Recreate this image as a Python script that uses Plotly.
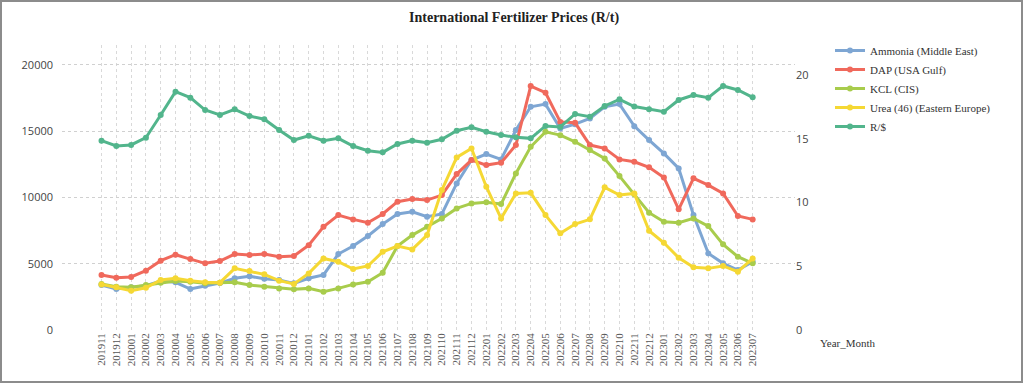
import plotly.graph_objects as go

months = ["201911","201912","202001","202002","202003","202004","202005","202006","202007","202008",
          "202009","202010","202011","202012","202101","202102","202103","202104","202105","202106",
          "202107","202108","202109","202110","202111","202112","202201","202202","202203","202204",
          "202205","202206","202207","202208","202209","202210","202211","202212","202301","202302",
          "202303","202304","202305","202306","202307"]

ammonia = [3390,3090,3220,3340,3700,3600,3090,3340,3540,3900,
           4050,3870,3770,3520,3900,4150,5730,6330,7090,7990,
           8750,8920,8545,8750,11060,12820,13270,12870,15080,16840,
           17040,15200,15530,15960,16840,17040,15380,14330,13320,12190,
           8670,5780,5030,4520,5150]

dap = [4150,3950,4000,4470,5230,5680,5350,5030,5200,5730,
       5655,5730,5530,5580,6400,7790,8670,8345,8090,8750,
       9680,9880,9800,10180,11760,12820,12440,12620,13950,18400,
       17900,15700,15630,13950,13700,12870,12690,12270,11510,9100,
       11440,10930,10300,8600,8345]

kcl = [3470,3270,3220,3390,3570,3700,3640,3520,3570,3600,
       3390,3270,3140,3070,3140,2890,3140,3440,3640,4320,
       6330,7160,7790,8420,9170,9550,9630,9500,11810,13820,
       14950,14700,14200,13570,12940,11610,10250,8850,8170,8090,
       8420,7840,6460,5530,5030]

urea = [3440,3220,2960,3190,3770,3900,3720,3600,3570,4650,
        4450,4200,3720,3470,4270,5400,5150,4600,4830,5900,
        6330,6080,7160,10560,13020,13700,10810,8420,10300,10350,
        8670,7290,7990,8350,10760,10180,10300,7490,6580,5450,
        4730,4650,4830,4400,5400]

zar_usd = [14.85,14.43,14.51,15.08,16.86,18.69,18.22,17.25,16.86,17.31,
           16.78,16.53,15.69,14.90,15.23,14.85,15.03,14.43,14.06,13.93,
           14.59,14.85,14.69,14.96,15.63,15.90,15.55,15.29,15.11,15.03,
           16.00,15.92,16.94,16.73,17.57,18.09,17.52,17.31,17.12,18.04,
           18.43,18.22,19.14,18.82,18.25]

series = [
    ("Ammonia (Middle East)", ammonia, "#7ea6d3", "y"),
    ("DAP (USA Gulf)", dap, "#f0695c", "y"),
    ("KCL (CIS)", kcl, "#a8cc4c", "y"),
    ("Urea (46) (Eastern Europe)", urea, "#f5d834", "y"),
    ("R/$", zar_usd, "#52b58c", "y2"),
]

fig = go.Figure()
for name, vals, color, ax in series:
    fig.add_trace(go.Scatter(
        x=months, y=vals, name=name, yaxis=ax, mode="lines+markers",
        line=dict(color=color, width=3),
        marker=dict(color=color, size=6, symbol="circle"),
    ))

serif = "Liberation Serif"
fig.update_layout(
    width=1024, height=384,
    margin=dict(l=62, r=229, t=45, b=54, autoexpand=False),
    paper_bgcolor="white", plot_bgcolor="white",
    title=dict(text="<b>International Fertilizer Prices (R/t)</b>",
               x=0.502, xanchor="center", y=0.955, yanchor="middle",
               font=dict(family=serif, size=14, color="#222222")),
    showlegend=True,
    legend=dict(xref="container", yref="container", x=830/1024, y=1-36/384,
                xanchor="left", yanchor="top",
                font=dict(family=serif, size=11, color="#333333"),
                itemwidth=30, tracegroupgap=0, bgcolor="rgba(0,0,0,0)"),
    xaxis=dict(type="category", range=[-2.67, 46.86], automargin=False,
               tickangle=-90, tickfont=dict(family=serif, size=11, color="#555555"),
               showgrid=True, gridcolor="#d9d9d9", griddash="dot", gridwidth=1,
               showline=False, zeroline=False, ticks=""),
    yaxis=dict(range=[0, 21500], dtick=5000, tickformat="d", automargin=False,
               tickfont=dict(family="Open Sans", size=11, color="#444444"),
               showgrid=True, gridcolor="#d0d0d0", griddash="dot", gridwidth=1,
               zeroline=False, showline=False, ticks="", ticklabelstandoff=8),
    yaxis2=dict(range=[0, 22.35], dtick=5, overlaying="y", side="right", automargin=False,
                tickfont=dict(family="Open Sans", size=11, color="#444444"),
                showgrid=False, zeroline=False, showline=False, ticks=""),
    annotations=[dict(text="Year_Month", xref="paper", yref="paper",
                      x=(818-62)/733, y=(330-343)/285, xanchor="left", yanchor="middle",
                      showarrow=False, font=dict(family=serif, size=11, color="#333333"))],
    shapes=[dict(type="rect", xref="paper", yref="paper",
                 x0=(1-62)/733, x1=(1022-62)/733, y0=(330-382)/285, y1=(330-1)/285,
                 line=dict(color="#8c8c8c", width=2), fillcolor="rgba(0,0,0,0)")],
)

fig.write_html("out.html", config={"displayModeBar": False},
               post_script="document.body.style.margin='0';document.body.style.padding='0';")
